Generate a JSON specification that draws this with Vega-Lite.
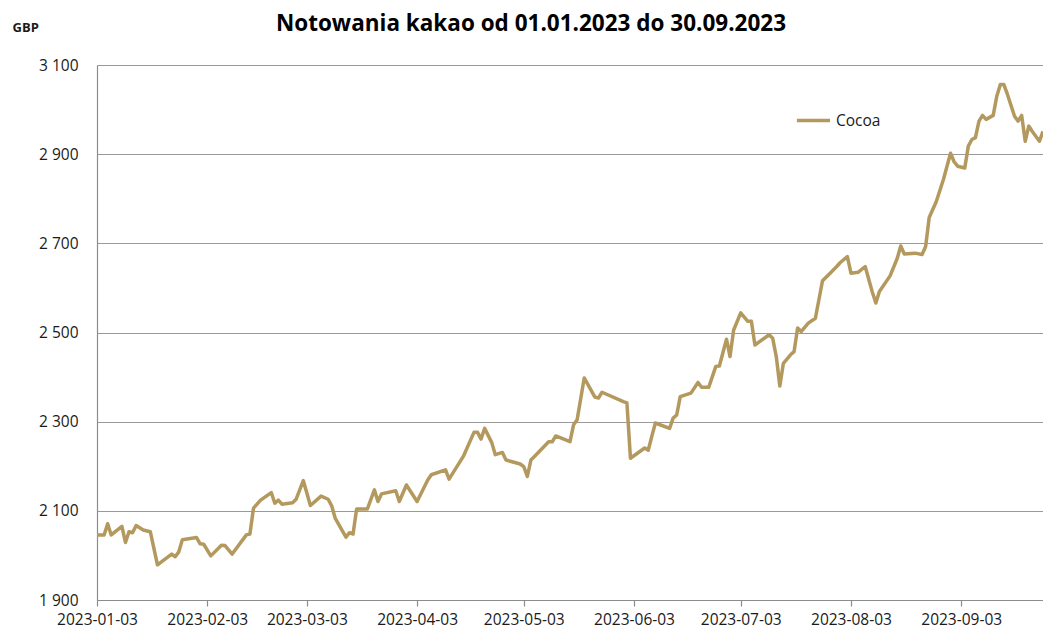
{
  "$schema": "https://vega.github.io/schema/vega-lite/v6.json",
  "width": 946,
  "height": 535,
  "autosize": {"type": "none"},
  "padding": {"left": 97, "top": 65, "right": 0, "bottom": 33},
  "background": "white",
  "title": {
    "text": "Notowania kakao od 01.01.2023 do 30.09.2023",
    "font": "Open Sans",
    "fontSize": 22.5,
    "fontWeight": "bold",
    "color": "#000000",
    "anchor": "middle",
    "dx": -39,
    "offset": -14
  },
  "config": {
    "view": {"stroke": null},
    "axis": {"labelFont": "Open Sans", "titleFont": "Open Sans"},
    "legend": {"labelFont": "Open Sans"}
  },
  "data": {
    "values": [
      {"date": "2023-01-03", "price": 2046},
      {"date": "2023-01-05", "price": 2046},
      {"date": "2023-01-06", "price": 2071},
      {"date": "2023-01-07", "price": 2046},
      {"date": "2023-01-10", "price": 2065},
      {"date": "2023-01-11", "price": 2029},
      {"date": "2023-01-12", "price": 2053},
      {"date": "2023-01-13", "price": 2051},
      {"date": "2023-01-14", "price": 2067},
      {"date": "2023-01-16", "price": 2057},
      {"date": "2023-01-18", "price": 2053},
      {"date": "2023-01-20", "price": 1979},
      {"date": "2023-01-24", "price": 2003},
      {"date": "2023-01-25", "price": 1997},
      {"date": "2023-01-26", "price": 2008},
      {"date": "2023-01-27", "price": 2035},
      {"date": "2023-01-31", "price": 2040},
      {"date": "2023-02-01", "price": 2026},
      {"date": "2023-02-02", "price": 2025},
      {"date": "2023-02-04", "price": 1999},
      {"date": "2023-02-07", "price": 2023},
      {"date": "2023-02-08", "price": 2022},
      {"date": "2023-02-10", "price": 2003},
      {"date": "2023-02-11", "price": 2014},
      {"date": "2023-02-14", "price": 2046},
      {"date": "2023-02-15", "price": 2048},
      {"date": "2023-02-16", "price": 2106},
      {"date": "2023-02-17", "price": 2115},
      {"date": "2023-02-18", "price": 2124},
      {"date": "2023-02-21", "price": 2141},
      {"date": "2023-02-22", "price": 2117},
      {"date": "2023-02-23", "price": 2124},
      {"date": "2023-02-24", "price": 2115},
      {"date": "2023-02-27", "price": 2118},
      {"date": "2023-02-28", "price": 2126},
      {"date": "2023-03-02", "price": 2168},
      {"date": "2023-03-04", "price": 2112},
      {"date": "2023-03-07", "price": 2133},
      {"date": "2023-03-09", "price": 2126},
      {"date": "2023-03-10", "price": 2111},
      {"date": "2023-03-11", "price": 2083},
      {"date": "2023-03-14", "price": 2041},
      {"date": "2023-03-15", "price": 2051},
      {"date": "2023-03-16", "price": 2048},
      {"date": "2023-03-17", "price": 2104},
      {"date": "2023-03-20", "price": 2104},
      {"date": "2023-03-22", "price": 2147},
      {"date": "2023-03-23", "price": 2121},
      {"date": "2023-03-24", "price": 2138},
      {"date": "2023-03-28", "price": 2145},
      {"date": "2023-03-29", "price": 2121},
      {"date": "2023-03-31", "price": 2158},
      {"date": "2023-04-03", "price": 2121},
      {"date": "2023-04-06", "price": 2169},
      {"date": "2023-04-07", "price": 2181},
      {"date": "2023-04-11", "price": 2192},
      {"date": "2023-04-12", "price": 2171},
      {"date": "2023-04-16", "price": 2222},
      {"date": "2023-04-19", "price": 2276},
      {"date": "2023-04-20", "price": 2276},
      {"date": "2023-04-21", "price": 2261},
      {"date": "2023-04-22", "price": 2285},
      {"date": "2023-04-24", "price": 2253},
      {"date": "2023-04-25", "price": 2226},
      {"date": "2023-04-27", "price": 2231},
      {"date": "2023-04-28", "price": 2214},
      {"date": "2023-05-02", "price": 2205},
      {"date": "2023-05-03", "price": 2199},
      {"date": "2023-05-04", "price": 2177},
      {"date": "2023-05-05", "price": 2214},
      {"date": "2023-05-06", "price": 2222},
      {"date": "2023-05-10", "price": 2255},
      {"date": "2023-05-11", "price": 2255},
      {"date": "2023-05-12", "price": 2268},
      {"date": "2023-05-16", "price": 2255},
      {"date": "2023-05-17", "price": 2293},
      {"date": "2023-05-18", "price": 2304},
      {"date": "2023-05-20", "price": 2398},
      {"date": "2023-05-23", "price": 2355},
      {"date": "2023-05-24", "price": 2353},
      {"date": "2023-05-25", "price": 2366},
      {"date": "2023-05-31", "price": 2345},
      {"date": "2023-06-01", "price": 2342},
      {"date": "2023-06-02", "price": 2218},
      {"date": "2023-06-06", "price": 2241},
      {"date": "2023-06-07", "price": 2236},
      {"date": "2023-06-08", "price": 2267},
      {"date": "2023-06-09", "price": 2297},
      {"date": "2023-06-13", "price": 2285},
      {"date": "2023-06-14", "price": 2308},
      {"date": "2023-06-15", "price": 2315},
      {"date": "2023-06-16", "price": 2356},
      {"date": "2023-06-19", "price": 2364},
      {"date": "2023-06-21", "price": 2388},
      {"date": "2023-06-22", "price": 2377},
      {"date": "2023-06-24", "price": 2377},
      {"date": "2023-06-26", "price": 2424},
      {"date": "2023-06-27", "price": 2425},
      {"date": "2023-06-29", "price": 2485},
      {"date": "2023-06-30", "price": 2446},
      {"date": "2023-07-01", "price": 2505},
      {"date": "2023-07-03", "price": 2544},
      {"date": "2023-07-05", "price": 2525},
      {"date": "2023-07-06", "price": 2525},
      {"date": "2023-07-07", "price": 2472},
      {"date": "2023-07-11", "price": 2495},
      {"date": "2023-07-12", "price": 2487},
      {"date": "2023-07-13", "price": 2446},
      {"date": "2023-07-14", "price": 2380},
      {"date": "2023-07-15", "price": 2431},
      {"date": "2023-07-17", "price": 2450},
      {"date": "2023-07-18", "price": 2457},
      {"date": "2023-07-19", "price": 2510},
      {"date": "2023-07-20", "price": 2502},
      {"date": "2023-07-22", "price": 2521},
      {"date": "2023-07-24", "price": 2532},
      {"date": "2023-07-26", "price": 2616},
      {"date": "2023-07-28", "price": 2632},
      {"date": "2023-07-30", "price": 2648},
      {"date": "2023-07-31", "price": 2657},
      {"date": "2023-08-02", "price": 2670},
      {"date": "2023-08-03", "price": 2633},
      {"date": "2023-08-05", "price": 2635},
      {"date": "2023-08-07", "price": 2648},
      {"date": "2023-08-09", "price": 2591},
      {"date": "2023-08-10", "price": 2566},
      {"date": "2023-08-11", "price": 2592},
      {"date": "2023-08-14", "price": 2627},
      {"date": "2023-08-16", "price": 2666},
      {"date": "2023-08-17", "price": 2694},
      {"date": "2023-08-18", "price": 2676},
      {"date": "2023-08-21", "price": 2678},
      {"date": "2023-08-23", "price": 2675},
      {"date": "2023-08-24", "price": 2693},
      {"date": "2023-08-25", "price": 2758},
      {"date": "2023-08-27", "price": 2794},
      {"date": "2023-08-29", "price": 2843},
      {"date": "2023-08-31", "price": 2902},
      {"date": "2023-09-01", "price": 2883},
      {"date": "2023-09-02", "price": 2873},
      {"date": "2023-09-04", "price": 2869},
      {"date": "2023-09-05", "price": 2918},
      {"date": "2023-09-06", "price": 2933},
      {"date": "2023-09-07", "price": 2937},
      {"date": "2023-09-08", "price": 2974},
      {"date": "2023-09-09", "price": 2987},
      {"date": "2023-09-10", "price": 2978},
      {"date": "2023-09-12", "price": 2987},
      {"date": "2023-09-13", "price": 3030},
      {"date": "2023-09-14", "price": 3056},
      {"date": "2023-09-15", "price": 3056},
      {"date": "2023-09-16", "price": 3034},
      {"date": "2023-09-18", "price": 2985},
      {"date": "2023-09-19", "price": 2974},
      {"date": "2023-09-20", "price": 2987},
      {"date": "2023-09-21", "price": 2929},
      {"date": "2023-09-22", "price": 2963},
      {"date": "2023-09-23", "price": 2951},
      {"date": "2023-09-25", "price": 2929},
      {"date": "2023-09-26", "price": 2951}
    ]
  },
  "mark": {"type": "line", "strokeWidth": 3.5, "strokeJoin": "round", "clip": true},
  "encoding": {
    "x": {
      "field": "date",
      "type": "temporal",
      "scale": {
        "type": "utc",
        "domain": [
          {"year": 2023, "month": 1, "date": 3, "utc": true},
          {"year": 2023, "month": 9, "date": 26, "utc": true}
        ]
      },
      "axis": {
        "title": null,
        "grid": false,
        "format": "%Y-%m-%d",
        "values": [
          {"year": 2023, "month": 1, "date": 3, "utc": true},
          {"year": 2023, "month": 2, "date": 3, "utc": true},
          {"year": 2023, "month": 3, "date": 3, "utc": true},
          {"year": 2023, "month": 4, "date": 3, "utc": true},
          {"year": 2023, "month": 5, "date": 3, "utc": true},
          {"year": 2023, "month": 6, "date": 3, "utc": true},
          {"year": 2023, "month": 7, "date": 3, "utc": true},
          {"year": 2023, "month": 8, "date": 3, "utc": true},
          {"year": 2023, "month": 9, "date": 3, "utc": true}
        ],
        "domainColor": "#8c8c8c",
        "domainWidth": 1.2,
        "tickColor": "#8c8c8c",
        "tickSize": 6,
        "tickWidth": 1.2,
        "labelFontSize": 15.5,
        "labelColor": "#1a1a1a",
        "labelPadding": 6,
        "labelFlush": false,
        "labelOverlap": false
      }
    },
    "y": {
      "field": "price",
      "type": "quantitative",
      "scale": {"domain": [1900, 3100], "nice": false, "zero": false},
      "axis": {
        "title": "GBP",
        "titleAngle": 0,
        "titleAlign": "left",
        "titleBaseline": "middle",
        "titleX": -85,
        "titleY": -38,
        "titleFontSize": 13,
        "titleFontWeight": "bold",
        "titleColor": "#1a1a1a",
        "values": [1900, 2100, 2300, 2500, 2700, 2900, 3100],
        "labelExpr": "replace(format(datum.value, ','), ',', ' ')",
        "ticks": false,
        "labelPadding": 19,
        "labelFontSize": 15.5,
        "labelColor": "#1a1a1a",
        "domainColor": "#8c8c8c",
        "domainWidth": 1.2,
        "gridColor": "#9a9a9a",
        "gridWidth": 1.2
      }
    },
    "color": {
      "datum": "Cocoa",
      "type": "nominal",
      "scale": {"range": ["#b3995d"]},
      "legend": {
        "title": null,
        "orient": "none",
        "legendX": 698,
        "legendY": 37,
        "symbolType": "stroke",
        "symbolStrokeWidth": 3.5,
        "symbolSize": 1100,
        "labelFontSize": 15.5,
        "labelColor": "#1a1a1a",
        "labelOffset": 4
      }
    }
  }
}
